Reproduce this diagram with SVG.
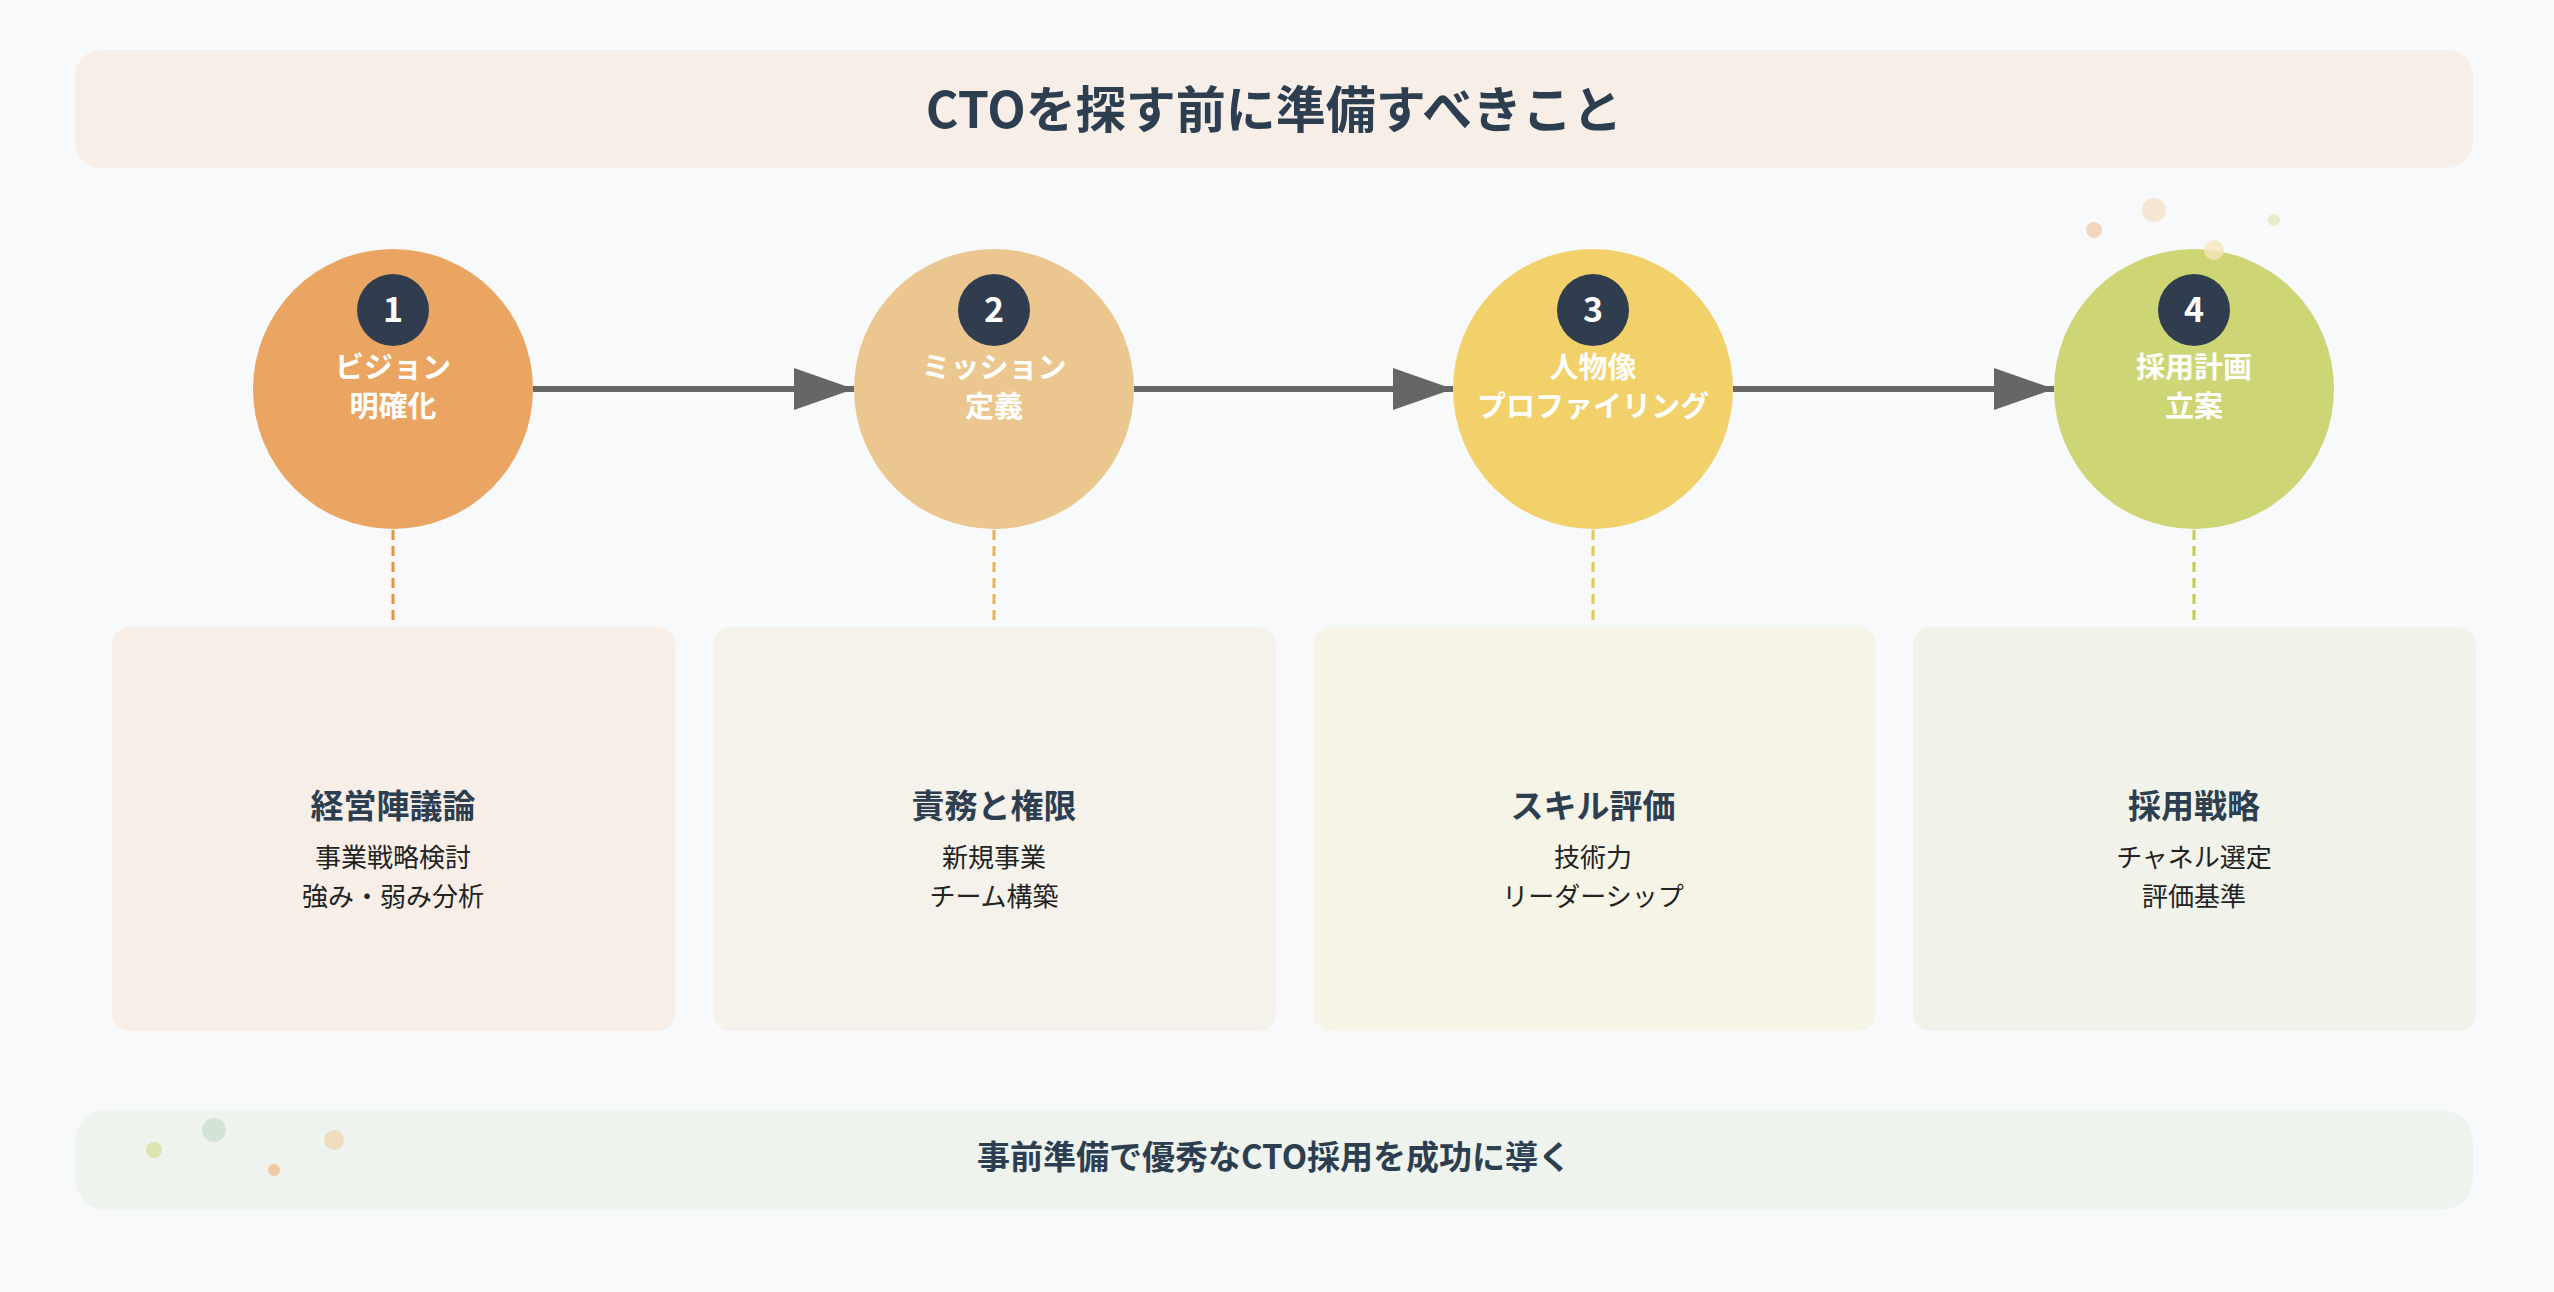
<svg xmlns="http://www.w3.org/2000/svg" width="2554" height="1292" viewBox="0 0 2554 1292">
<defs>
<marker id="ah" markerWidth="60" markerHeight="42" refX="60" refY="21" orient="auto" markerUnits="userSpaceOnUse"><path d="M0,0 L60,21 L0,42 Z" fill="#666"/></marker>
<style>
text{font-family:"Noto Sans CJK JP","Noto Sans",sans-serif;text-anchor:middle}
.t{font-size:50px;font-weight:700;fill:#2c3e50}
.num{font-size:34px;font-weight:700;fill:#fff}
.lab{font-size:29px;font-weight:700;fill:#fff}
.h{font-size:33px;font-weight:700;fill:#2c3e50}
.s{font-size:26px;fill:#222}
.card{}
.conn{stroke:#666;stroke-width:6;fill:none}
.dash{stroke-width:3;stroke-dasharray:10 6;fill:none}
</style>
</defs>
<rect width="2554" height="1292" fill="#f7f9fb"/>
<g id="title"><rect x="75" y="50" width="2398" height="118" rx="26" fill="#f6eee7"/><text class="t" x="1274" y="128">CTOを探す前に準備すべきこと</text></g>
<g id="deco">
<circle cx="2094" cy="230" r="8" fill="#f2d5bf"/><circle cx="2154" cy="210" r="12" fill="#f5e6d3"/><circle cx="2274" cy="220" r="6" fill="#e6ebc8"/>
</g>
<g id="connectors">
<line class="conn" x1="533" y1="389" x2="854" y2="389" marker-end="url(#ah)"/>
<line class="conn" x1="1134" y1="389" x2="1453" y2="389" marker-end="url(#ah)"/>
<line class="conn" x1="1733" y1="389" x2="2054" y2="389" marker-end="url(#ah)"/>
<line class="dash" x1="393" y1="530" x2="393" y2="620" stroke="#e8913a"/>
<line class="dash" x1="994" y1="530" x2="994" y2="620" stroke="#e8b45a"/>
<line class="dash" x1="1593" y1="530" x2="1593" y2="620" stroke="#e8c64a"/>
<line class="dash" x1="2194" y1="530" x2="2194" y2="620" stroke="#c8cc4a"/>
</g>
<g id="step1"><circle cx="393" cy="389" r="140" fill="#eaa562"/><circle cx="393" cy="310" r="36" fill="#2f3d4f"/><text class="num" x="393" y="322">1</text><text class="lab" x="393" y="378">ビジョン</text><text class="lab" x="393" y="417">明確化</text></g>
<g id="step2"><circle cx="994" cy="389" r="140" fill="#ebc78f"/><circle cx="994" cy="310" r="36" fill="#2f3d4f"/><text class="num" x="994" y="322">2</text><text class="lab" x="994" y="378">ミッション</text><text class="lab" x="994" y="417">定義</text></g>
<g id="step3"><circle cx="1593" cy="389" r="140" fill="#f2d06a"/><circle cx="1593" cy="310" r="36" fill="#2f3d4f"/><text class="num" x="1593" y="322">3</text><text class="lab" x="1593" y="378">人物像</text><text class="lab" x="1593" y="417">プロファイリング</text></g>
<g id="step4"><circle cx="2194" cy="389" r="140" fill="#ced575"/><circle cx="2214" cy="250" r="10" fill="#f7e6bb" opacity="0.8"/><circle cx="2194" cy="310" r="36" fill="#2f3d4f"/><text class="num" x="2194" y="322">4</text><text class="lab" x="2194" y="378">採用計画</text><text class="lab" x="2194" y="417">立案</text></g>
<g id="card1"><rect x="112" y="627" width="563" height="404" rx="18" fill="#f6eee7"/><text class="h" x="393" y="818">経営陣議論</text><text class="s" x="393" y="867">事業戦略検討</text><text class="s" x="393" y="906">強み・弱み分析</text></g>
<g id="card2"><rect x="713" y="627" width="563" height="404" rx="18" fill="#f5f2eb"/><text class="h" x="994" y="818">責務と権限</text><text class="s" x="994" y="867">新規事業</text><text class="s" x="994" y="906">チーム構築</text></g>
<g id="card3"><rect x="1313" y="627" width="563" height="404" rx="18" fill="#f6f4e7"/><text class="h" x="1593" y="818">スキル評価</text><text class="s" x="1593" y="867">技術力</text><text class="s" x="1593" y="906">リーダーシップ</text></g>
<g id="card4"><rect x="1913" y="627" width="563" height="404" rx="18" fill="#f1f3ea"/><text class="h" x="2194" y="818">採用戦略</text><text class="s" x="2194" y="867">チャネル選定</text><text class="s" x="2194" y="906">評価基準</text></g>
<g id="footer"><rect x="75" y="1110" width="2398" height="100" rx="32" fill="#eff3ee"/>
<circle cx="154" cy="1150" r="8" fill="#dde4b0"/><circle cx="214" cy="1130" r="12" fill="#d3e3d5"/><circle cx="274" cy="1170" r="6" fill="#efc9a3"/><circle cx="334" cy="1140" r="10" fill="#efdcbd"/>
<text class="h" x="1274" y="1169">事前準備で優秀なCTO採用を成功に導く</text></g>
</svg>
